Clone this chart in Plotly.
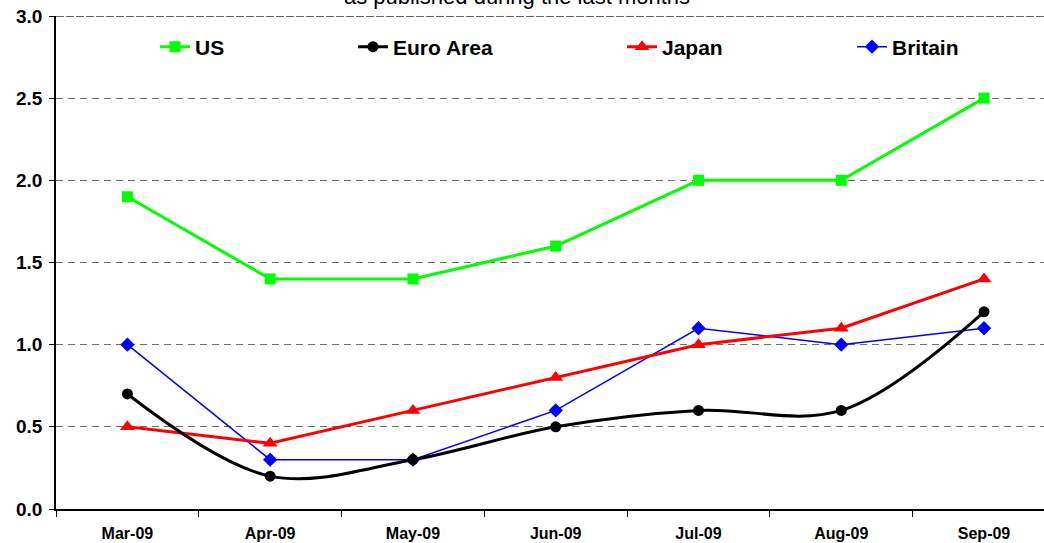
import plotly.graph_objects as go

months = ["Mar-09", "Apr-09", "May-09", "Jun-09", "Jul-09", "Aug-09", "Sep-09"]
us = [1.9, 1.4, 1.4, 1.6, 2.0, 2.0, 2.5]
euro = [0.7, 0.2, 0.3, 0.5, 0.6, 0.6, 1.2]
japan = [0.5, 0.4, 0.6, 0.8, 1.0, 1.1, 1.4]
britain = [1.0, 0.3, 0.3, 0.6, 1.1, 1.0, 1.1]
y_ticks = [0.0, 0.5, 1.0, 1.5, 2.0, 2.5, 3.0]
y_tick_labels = ["0.0", "0.5", "1.0", "1.5", "2.0", "2.5", "3.0"]

FONT = "Arial, 'Liberation Sans', sans-serif"

fig = go.Figure()
fig.add_trace(go.Scatter(x=months, y=britain, name="Britain", mode="lines+markers",
                         line=dict(color="#0000FF", width=1.5),
                         marker=dict(symbol="diamond", size=11, color="#0000FF"),
                         legend="legend4"))
fig.add_trace(go.Scatter(x=months, y=japan, name="Japan", mode="lines+markers",
                         line=dict(color="#FF0000", width=3),
                         marker=dict(symbol="triangle-up", size=13, color="#FF0000"),
                         legend="legend3"))
fig.add_trace(go.Scatter(x=months, y=euro, name="Euro Area", mode="lines+markers",
                         line=dict(color="#000000", width=3, shape="spline", smoothing=1),
                         marker=dict(symbol="circle", size=11, color="#000000"),
                         legend="legend2"))
fig.add_trace(go.Scatter(x=months, y=us, name="US", mode="lines+markers",
                         line=dict(color="#00FF00", width=3),
                         marker=dict(symbol="square", size=11, color="#00FF00"),
                         legend="legend"))

L = 56
W = 988

def leg(px):
    return dict(x=(px - L) / W, y=0.937, xref="paper", yref="paper", xanchor="left",
                yanchor="middle", orientation="h", bgcolor="rgba(0,0,0,0)",
                font=dict(family=FONT, size=21, color="#000000", weight="bold"))

fig.update_layout(
    width=1044, height=543,
    margin=dict(l=L, r=0, t=16, b=34, autoexpand=False),
    paper_bgcolor="white", plot_bgcolor="white",
    showlegend=True,
    legend=leg(155), legend2=leg(353), legend3=leg(622), legend4=leg(852),
    xaxis=dict(type="category", range=[-0.5, 6.42], showline=True, linecolor="#000000",
               linewidth=1.5, ticks="outside", ticklen=6, tickcolor="#000000",
               tickson="boundaries", showgrid=False, zeroline=False, automargin=False,
               tickfont=dict(family=FONT, size=16, color="#000000", weight="bold"),
               ticklabelstandoff=9),
    yaxis=dict(range=[0, 3], tickvals=y_ticks, ticktext=y_tick_labels,
               showline=True, linecolor="#000000", linewidth=1.5, automargin=False,
               ticks="outside", ticklen=5, tickcolor="#000000",
               showgrid=True, gridcolor="#6e6e6e", gridwidth=1, griddash="7px,5px",
               zeroline=False,
               tickfont=dict(family=FONT, size=19, color="#000000", weight="bold"),
               ticklabelstandoff=3),
    annotations=[dict(text="as published during the last months", xref="paper", yref="paper",
                      x=(517 - L) / W, y=1.0101, xanchor="center", yanchor="bottom",
                      showarrow=False, font=dict(family=FONT, size=22, color="#000000"))],
    shapes=[dict(type="line", xref="paper", yref="y", x0=0, x1=1, y0=3, y1=3,
                 line=dict(color="#333333", width=1.5, dash="8px,2px"))],
)

fig.write_html("out.html", config={"displayModeBar": False},
               post_script="document.body.style.margin='0';document.body.style.overflow='hidden';")
